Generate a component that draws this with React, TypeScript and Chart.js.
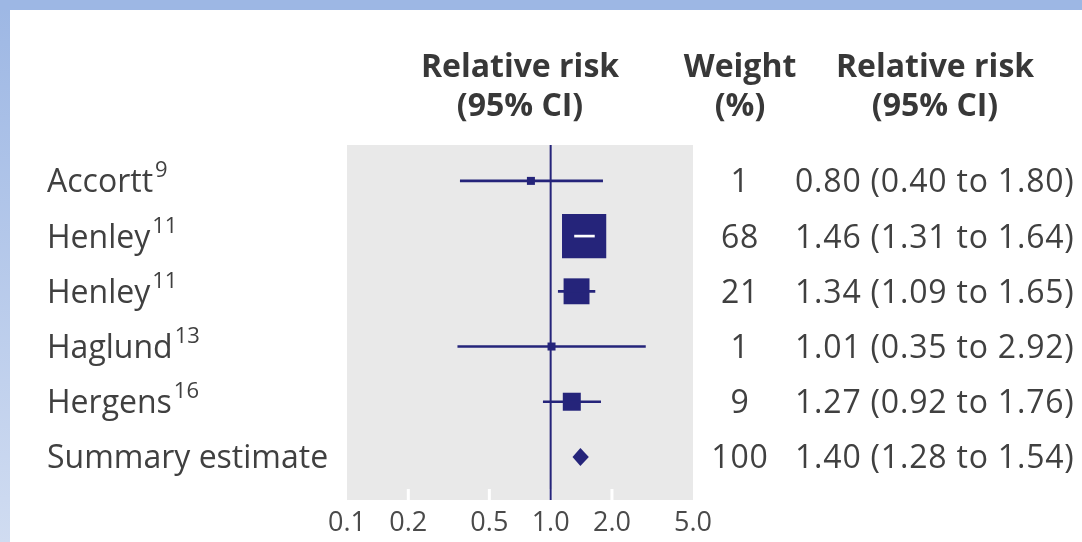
import React, { useEffect, useRef } from 'react';
import { Chart, registerables } from 'chart.js';

Chart.register(...registerables);

// ---- data ----
const studies = ['Accortt', 'Henley', 'Henley', 'Haglund', 'Hergens'];
const refs = ['9', '11', '11', '13', '16'];
const weights = [1, 68, 21, 1, 9];
const relRisk = [0.8, 1.46, 1.34, 1.01, 1.27];
const ciLow = [0.36, 1.31, 1.09, 0.35, 0.92];
const ciHigh = [1.8, 1.64, 1.65, 2.92, 1.76];
const ciLabels = [
  '0.80 (0.40 to 1.80)',
  '1.46 (1.31 to 1.64)',
  '1.34 (1.09 to 1.65)',
  '1.01 (0.35 to 2.92)',
  '1.27 (0.92 to 1.76)',
];
const summaryLabel = 'Summary estimate';
const summaryWeight = 100;
const summaryRR = 1.4;
const summaryLow = 1.28;
const summaryHigh = 1.54;
const summaryCiLabel = '1.40 (1.28 to 1.54)';
const xTicks = [0.1, 0.2, 0.5, 1.0, 2.0, 5.0];
const headerPlot = ['Relative risk', '(95% CI)'];
const headerWeight = ['Weight', '(%)'];
const headerRR = ['Relative risk', '(95% CI)'];

// ---- styles ----
const NAVY = '#25247a';
const PANEL = '#e9e9e9';
const TEXT = '#404040';
const HEAD = '#383838';
const FONT = '"Open Sans", "Noto Sans", sans-serif';

const squareSide = (w: number) => 3 + 5 * Math.sqrt(w);

const forestPlugin = {
  id: 'forest',
  beforeDraw(chart: any) {
    const { ctx, chartArea: a, width, height } = chart;
    ctx.save();
    ctx.fillStyle = '#ffffff';
    ctx.fillRect(0, 0, width, height);
    // frame bands
    ctx.fillStyle = '#9db7e4';
    ctx.fillRect(0, 0, width, 10);
    const g = ctx.createLinearGradient(0, 0, 0, height);
    g.addColorStop(0, '#9db7e4');
    g.addColorStop(1, '#d0dcf1');
    ctx.fillStyle = g;
    ctx.fillRect(0, 10, 10, height - 10);
    // panel
    ctx.fillStyle = PANEL;
    ctx.fillRect(a.left, a.top, a.right - a.left, a.bottom - a.top);
    // white tick marks inside the panel
    const xs = chart.scales.x;
    ctx.strokeStyle = '#ffffff';
    ctx.lineWidth = 3;
    xs.ticks.forEach((t: any) => {
      const px = xs.getPixelForValue(t.value);
      if (px < a.left + 3 || px > a.right - 3) return;
      ctx.beginPath();
      ctx.moveTo(px, a.bottom - 11);
      ctx.lineTo(px, a.bottom);
      ctx.stroke();
    });
    ctx.restore();
  },
  beforeDatasetsDraw(chart: any) {
    const { ctx, chartArea: a } = chart;
    const xs = chart.scales.x;
    const px = xs.getPixelForValue(1);
    ctx.save();
    ctx.strokeStyle = NAVY;
    ctx.lineWidth = 2;
    ctx.beginPath();
    ctx.moveTo(px, a.top);
    ctx.lineTo(px, a.bottom);
    ctx.stroke();
    ctx.restore();
  },
  afterDatasetsDraw(chart: any) {
    const { ctx } = chart;
    const xs = chart.scales.x;
    const ys = chart.scales.y;
    const y = ys.getPixelForValue(studies.length);
    const l = xs.getPixelForValue(summaryLow);
    const r = xs.getPixelForValue(summaryHigh);
    const c = xs.getPixelForValue(summaryRR);
    ctx.save();
    ctx.fillStyle = NAVY;
    ctx.beginPath();
    ctx.moveTo(l, y);
    ctx.lineTo(c, y - 9);
    ctx.lineTo(r, y);
    ctx.lineTo(c, y + 9);
    ctx.closePath();
    ctx.fill();
    ctx.restore();
  },
  afterDraw(chart: any) {
    const { ctx, chartArea: a } = chart;
    const ys = chart.scales.y;
    ctx.save();
    // headers
    ctx.fillStyle = HEAD;
    ctx.font = `bold 32px ${FONT}`;
    ctx.textAlign = 'center';
    ctx.textBaseline = 'alphabetic';
    const cols = [
      [(a.left + a.right) / 2, headerPlot],
      [740, headerWeight],
      [935, headerRR],
    ] as [number, string[]][];
    cols.forEach(([x, lines]) => {
      ctx.fillText(lines[0], x, 77);
      ctx.fillText(lines[1], x, 116);
    });
    // rows
    ctx.fillStyle = TEXT;
    const rows = studies.length + 1;
    for (let i = 0; i < rows; i++) {
      const base = ys.getPixelForValue(i) + 11.5;
      const isSum = i === studies.length;
      const name = isSum ? summaryLabel : studies[i];
      (ctx as any).letterSpacing = '0px';
      ctx.font = `32px ${FONT}`;
      ctx.textAlign = 'left';
      ctx.fillText(name, 47, base);
      if (!isSum) {
        const w = ctx.measureText(name).width;
        ctx.font = `22px ${FONT}`;
        ctx.fillText(refs[i], 47 + w + 2, base - 15);
        ctx.font = `32px ${FONT}`;
      }
      (ctx as any).letterSpacing = '0.8px';
      ctx.textAlign = 'center';
      ctx.fillText(String(isSum ? summaryWeight : weights[i]), 740, base);
      ctx.textAlign = 'left';
      ctx.fillText(isSum ? summaryCiLabel : ciLabels[i], 795, base);
    }
    ctx.restore();
  },
};

export default function App() {
  const ref = useRef<HTMLCanvasElement | null>(null);
  useEffect(() => {
    if (!ref.current) return;
    const chart = new Chart(ref.current, {
      type: 'scatter',
      data: {
        datasets: [
          {
            type: 'bar',
            indexAxis: 'y',
            data: studies.map((_, i) => ({ x: [ciLow[i], ciHigh[i]], y: i })),
            barThickness: 2,
            borderWidth: 0,
            borderSkipped: false,
            backgroundColor: (c: any) => {
              const i = c.dataIndex;
              const xs = c.chart.scales.x;
              if (!xs || i === undefined) return NAVY;
              const half = squareSide(weights[i]) / 2;
              const cx = xs.getPixelForValue(relRisk[i]);
              const inside =
                xs.getPixelForValue(ciLow[i]) >= cx - half &&
                xs.getPixelForValue(ciHigh[i]) <= cx + half;
              return inside ? '#ffffff' : NAVY;
            },
            order: 1,
          } as any,
          {
            type: 'scatter',
            data: studies.map((_, i) => ({ x: relRisk[i], y: i })),
            pointStyle: 'rect',
            pointRadius: (c: any) => squareSide(weights[c.dataIndex] ?? 1) / Math.SQRT2,
            pointBackgroundColor: NAVY,
            pointBorderWidth: 0,
            backgroundColor: NAVY,
            borderWidth: 0,
            order: 2,
          } as any,
        ],
      },
      options: {
        animation: false,
        responsive: false,
        events: [],
        layout: { padding: { left: 347, right: 389, top: 145, bottom: 0 } },
        plugins: { legend: { display: false }, tooltip: { enabled: false } },
        scales: {
          x: {
            type: 'logarithmic',
            min: 0.1,
            max: 5,
            offset: false,
            afterBuildTicks: (s: any) => {
              s.ticks = xTicks.map((v) => ({ value: v }));
            },
            afterFit: (s: any) => {
              s.height = 42;
            },
            grid: { display: false, drawTicks: false, offset: false },
            border: { display: false },
            ticks: {
              autoSkip: false,
              maxRotation: 0,
              padding: 7,
              color: '#4a4a4a',
              font: { family: FONT, size: 27 },
              callback: (v: any) => Number(v).toFixed(1),
            },
          },
          y: {
            type: 'linear',
            min: -0.65,
            max: 5.78,
            reverse: true,
            offset: false,
            grid: { offset: false },
            display: false,
          },
        },
      } as any,
      plugins: [forestPlugin],
    });
    return () => chart.destroy();
  }, []);
  return (
    <div style={{ position: 'absolute', left: 0, top: 0, width: 1082, height: 542 }}>
      <canvas ref={ref} width={1082} height={542} style={{ display: 'block' }} />
    </div>
  );
}
